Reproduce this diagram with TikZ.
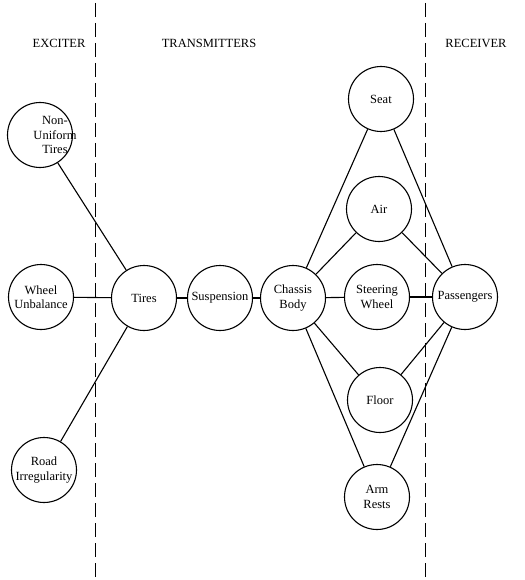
\documentclass[tikz,border=0pt]{standalone}
\usepackage{fontspec}
\setmainfont{Liberation Serif}
\begin{document}
\begin{tikzpicture}[x=1pt,y=-1pt,
  every node/.style={font=\fontsize{12.5}{14.5}\selectfont},
  bubble/.style={circle,draw,line width=1.1pt,minimum size=65pt,inner sep=0pt,align=center},
  bubbletext/.style={align=center,inner sep=0pt},
  link/.style={line width=1.1pt},
  divider/.style={line width=1pt,dash pattern=on 14pt off 6pt},
  heading/.style={font=\fontsize{12.5}{14.5}\selectfont}]
\useasboundingbox (0,0) rectangle (524,580);
% dividers
\coordinate (d1t) at (95,3);
\coordinate (d1b) at (95,578);
\coordinate (d2t) at (425,3);
\coordinate (d2b) at (425,578);
\draw[divider] (d1t) -- (d1b);
\draw[divider] (d2t) -- (d2b);
% headings
\node[heading] (hE) at (59,43) {EXCITER};
\node[heading] (hT) at (209,43) {TRANSMITTERS};
\node[heading] (hR) at (476,43) {RECEIVER};
% nodes
\node[bubble] (nu) at (40,135) {};
\node[bubbletext] (nut) at (55,135) {\hfill Non-\\Uniform\\Tires};
\node[bubble] (wu) at (41,297) {Wheel\\Unbalance};
\node[bubble] (ri) at (44,470) {Road\\Irregularity};
\node[bubble] (ti) at (144,298) {Tires};
\node[bubble] (su) at (220,298) {Suspension};
\node[bubble] (cb) at (293,298) {Chassis\\Body};
\node[bubble] (se) at (381,99) {Seat};
\node[bubble] (ai) at (379,209) {Air};
\node[bubble] (sw) at (377,297) {Steering\\Wheel};
\node[bubble] (fl) at (380,400) {Floor};
\node[bubble] (ar) at (377,497) {Arm\\Rests};
\node[bubble] (pa) at (465,297) {Passengers};
% links
\draw[link] (nu) -- (ti);
\draw[link] (wu) -- (ti);
\draw[link] (ri) -- (ti);
\draw[link] (ti) -- (su);
\draw[link] (su) -- (cb);
\foreach \n in {se,ai,sw,fl,ar}{
  \draw[link] (cb) -- (\n);
  \draw[link] (\n) -- (pa);
}
\end{tikzpicture}
\end{document}
